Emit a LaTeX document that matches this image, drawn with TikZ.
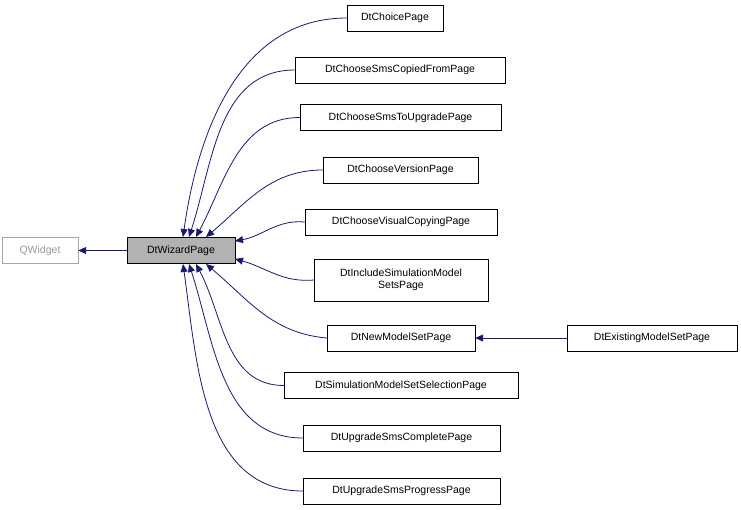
\documentclass[tikz,border=0pt]{standalone}
\usepackage{fontspec}
\setmainfont{Liberation Sans}
\usetikzlibrary{arrows.meta}
\begin{document}
\begin{tikzpicture}[x=1pt,y=-1pt,
  box/.style={draw=black,fill=white,inner sep=0pt,font=\fontsize{10.5}{12}\selectfont,align=center},
  e/.style={draw={rgb,255:red,25;green,25;blue,112},line width=0.8pt,-{Triangle[length=8pt,width=7pt]}}]
\useasboundingbox (0,0) rectangle (741,509);
\node[box,draw=gray!70,text=gray!80,minimum width=76,minimum height=26] (qw) at (40,250.5) {QWidget};
\node[box,fill=gray!60,minimum width=108,minimum height=26] (wp) at (181,250.5) {DtWizardPage};
\node[box,minimum width=96,minimum height=26] (c1) at (395,18) {DtChoicePage};
\node[box,minimum width=210,minimum height=26] (c2) at (400,70) {DtChooseSmsCopiedFromPage};
\node[box,minimum width=201,minimum height=26] (c3) at (400.5,117.5) {DtChooseSmsToUpgradePage};
\node[box,minimum width=155,minimum height=26] (c4) at (400.5,170) {DtChooseVersionPage};
\node[box,minimum width=192,minimum height=26] (c5) at (401,222) {DtChooseVisualCopyingPage};
\node[box,minimum width=174,minimum height=42] (c6) at (401,280) {DtIncludeSimulationModel\\SetsPage};
\node[box,minimum width=148,minimum height=26] (c7) at (401,338) {DtNewModelSetPage};
\node[box,minimum width=170,minimum height=26] (ex) at (652,338) {DtExistingModelSetPage};
\node[box,minimum width=234,minimum height=26] (c8) at (401,385.5) {DtSimulationModelSetSelectionPage};
\node[box,minimum width=197,minimum height=26] (c9) at (401.5,438) {DtUpgradeSmsCompletePage};
\node[box,minimum width=197,minimum height=26] (c10) at (401.5,491) {DtUpgradeSmsProgressPage};
\coordinate (p1) at (183,237); \coordinate (p2) at (189,237); \coordinate (p3) at (196,237);
\coordinate (p4) at (206,237); \coordinate (p5) at (235,241); \coordinate (p6) at (235,259);
\coordinate (p7) at (206,264); \coordinate (p8) at (196,264); \coordinate (p9) at (189,264);
\coordinate (p10) at (183,264);
\draw[e] (wp.west) -- (qw.east);
\draw[e] (c1.west) to[out=180,in=82] (p1);
\draw[e] (c2.west) to[out=180,in=72] (p2);
\draw[e] (c3.west) to[out=180,in=62] (p3);
\draw[e] (c4.west) to[out=180,in=40] (p4);
\draw[e] (c5.west) to[out=175,in=10] (p5);
\draw[e] (c6.west) to[out=185,in=-15] (p6);
\draw[e] (c7.west) to[out=175,in=-40] (p7);
\draw[e] (c8.west) to[out=180,in=-62] (p8);
\draw[e] (c9.west) to[out=180,in=-72] (p9);
\draw[e] (c10.west) to[out=180,in=-82] (p10);
\draw[e] (ex.west) -- (c7.east);
\end{tikzpicture}
\end{document}
